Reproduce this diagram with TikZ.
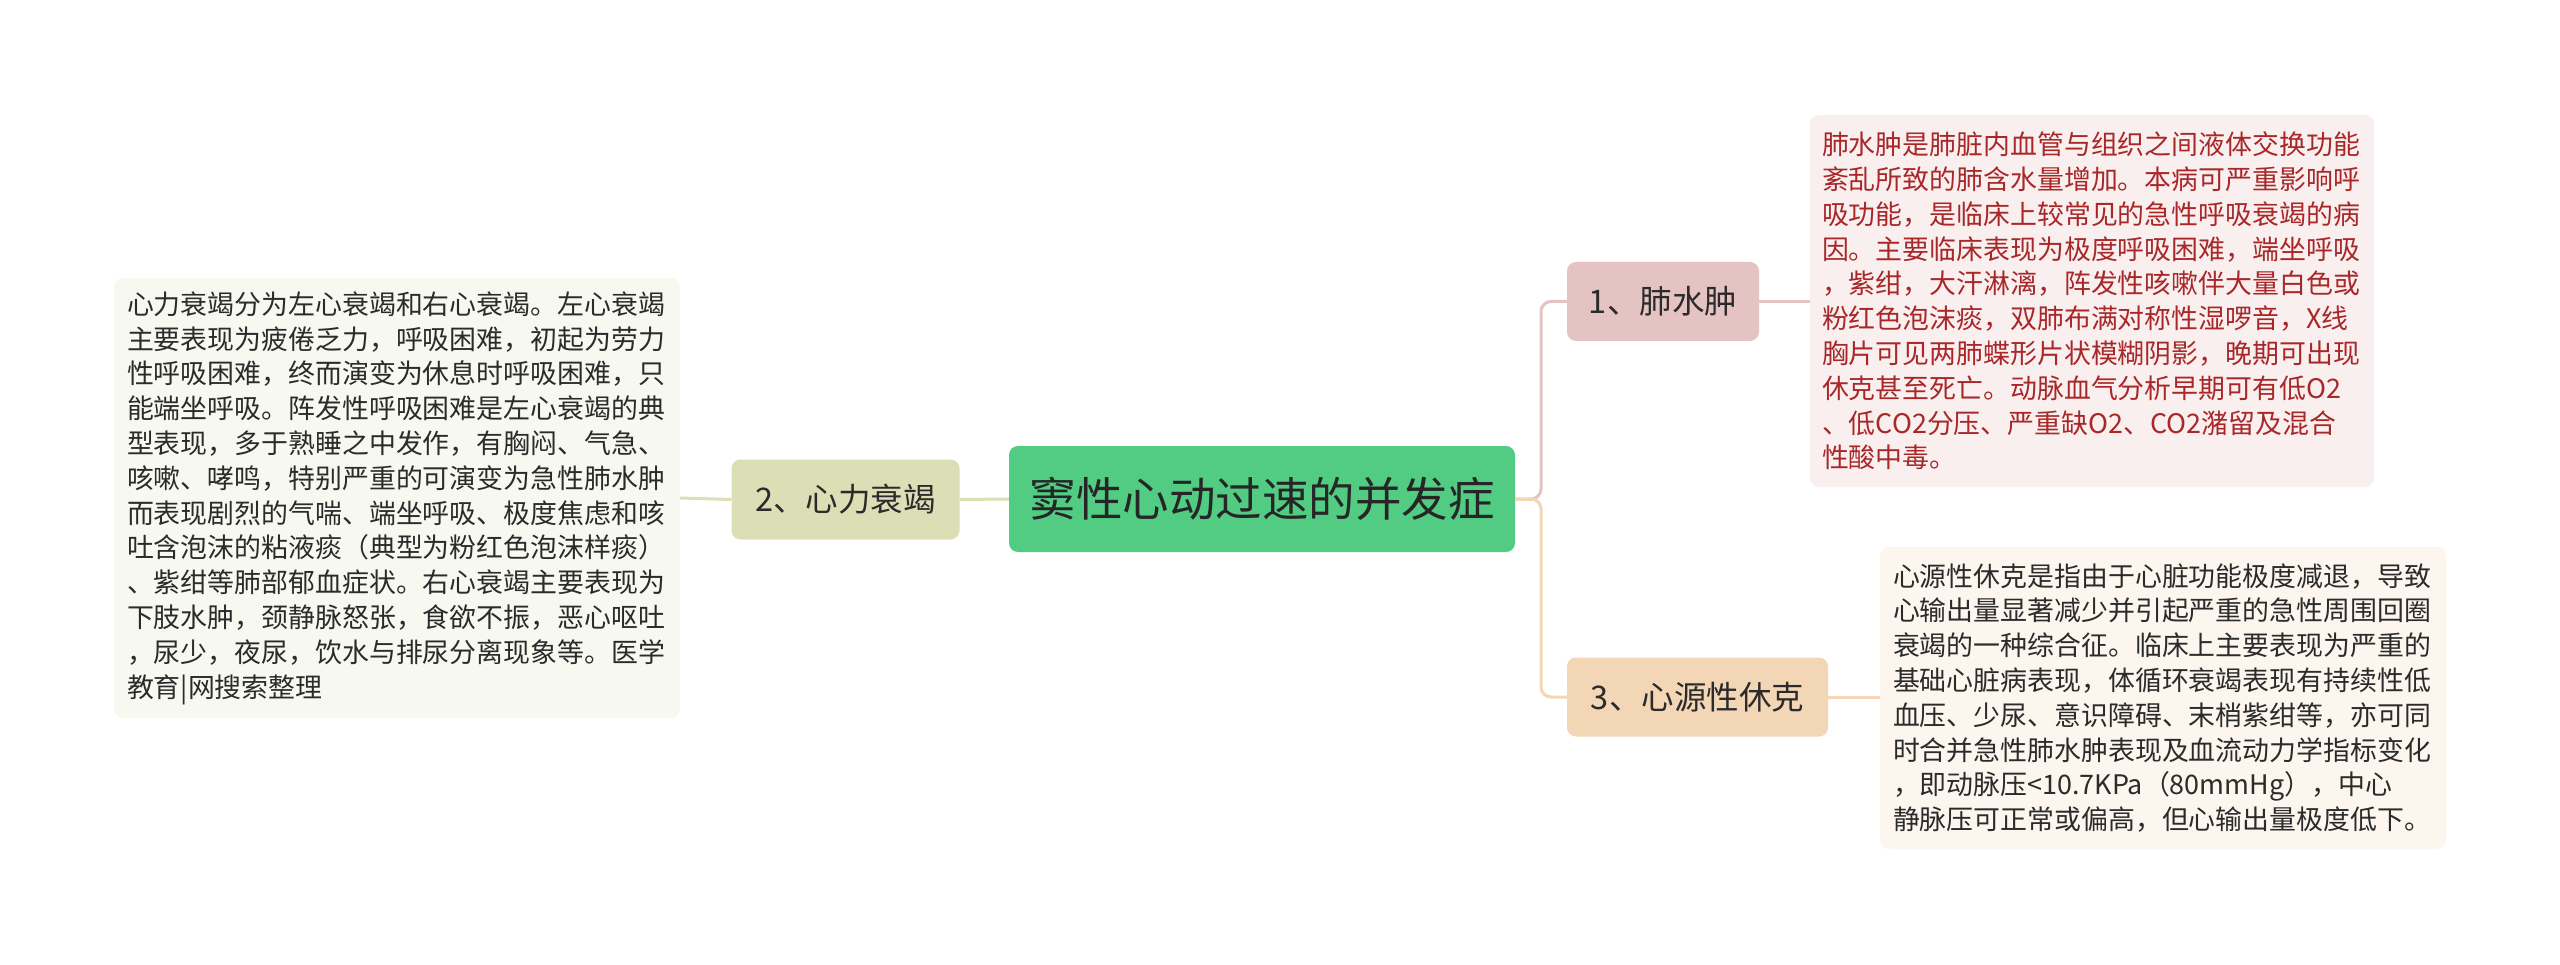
\documentclass[tikz,border=0pt]{standalone}
\usepackage{fontspec}
\setmainfont{Noto Sans CJK SC}
\definecolor{cgreen}{HTML}{52CC82}
\definecolor{colive}{HTML}{DCDFB5}
\definecolor{cpink}{HTML}{E6C3C3}
\definecolor{cpeach}{HTML}{F2D6B5}
\definecolor{bgleft}{HTML}{F7F8F0}
\definecolor{bgpink}{HTML}{FAEFEF}
\definecolor{bgpeach}{HTML}{FDF6EE}
\definecolor{tred}{HTML}{A8282A}
\definecolor{tdark}{HTML}{2B2B2B}
\tikzset{
  x=1pt, y=-1pt,
  topic/.style={rounded corners=9pt, inner sep=0pt, text=tdark, font=\fontsize{32.5}{36}\selectfont},
  note/.style={rounded corners=9pt, inner sep=0pt, align=left, text width=540pt, font=\fontsize{26.9}{34.8}\selectfont},
  link/.style={line width=3pt},
}
\begin{document}
\begin{tikzpicture}
\useasboundingbox (0,0) rectangle (2560,965);
\fill[white] (0,0) rectangle (2560,965);

% central
\node[topic, fill=cgreen, minimum width=506pt, minimum height=106pt, font=\fontsize{46.5}{50}\selectfont, text=black!85] (c) at (1262,499) {窦性心动过速的并发症};

% left branch
\node[topic, fill=colive, minimum width=228pt, minimum height=80pt] (n2) at (845.5,499.5) {2、心力衰竭};
\node[note, fill=bgleft, text=tdark, minimum width=566pt, minimum height=440pt] (b2) at (397,498) {心力衰竭分为左心衰竭和右心衰竭。左心衰竭\\主要表现为疲倦乏力，呼吸困难，初起为劳力\\性呼吸困难，终而演变为休息时呼吸困难，只\\能端坐呼吸。阵发性呼吸困难是左心衰竭的典\\型表现，多于熟睡之中发作，有胸闷、气急、\\咳嗽、哮鸣，特别严重的可演变为急性肺水肿\\而表现剧烈的气喘、端坐呼吸、极度焦虑和咳\\吐含泡沫的粘液痰（典型为粉红色泡沫样痰）\\、紫绀等肺部郁血症状。右心衰竭主要表现为\\下肢水肿，颈静脉怒张，食欲不振，恶心呕吐\\，尿少，夜尿，饮水与排尿分离现象等。医学\\教育|网搜索整理};

% right branches
\node[topic, fill=cpink, minimum width=192pt, minimum height=79pt] (n1) at (1663,301.5) {1、肺水肿};
\node[topic, fill=cpeach, minimum width=261pt, minimum height=79pt] (n3) at (1697.5,697) {3、心源性休克};

\node[note, fill=bgpink, text=tred, minimum width=564pt, minimum height=372pt] (b1) at (2092,301) {肺水肿是肺脏内血管与组织之间液体交换功能\\紊乱所致的肺含水量增加。本病可严重影响呼\\吸功能，是临床上较常见的急性呼吸衰竭的病\\因。主要临床表现为极度呼吸困难，端坐呼吸\\，紫绀，大汗淋漓，阵发性咳嗽伴大量白色或\\粉红色泡沫痰，双肺布满对称性湿啰音，X线\\胸片可见两肺蝶形片状模糊阴影，晚期可出现\\休克甚至死亡。动脉血气分析早期可有低O2\\、低CO2分压、严重缺O2、CO2潴留及混合\\性酸中毒。};

\node[note, fill=bgpeach, text=tdark, minimum width=566pt, minimum height=302pt] (b3) at (2163,698) {心源性休克是指由于心脏功能极度减退，导致\\心输出量显著减少并引起严重的急性周围回圈\\衰竭的一种综合征。临床上主要表现为严重的\\基础心脏病表现，体循环衰竭表现有持续性低\\血压、少尿、意识障碍、末梢紫绀等，亦可同\\时合并急性肺水肿表现及血流动力学指标变化\\，即动脉压<10.7KPa（80mmHg），中心\\静脉压可正常或偏高，但心输出量极度低下。};

% connectors
\coordinate (j) at (1541,499);
\draw[link, colive] (b2.east) -- (n2.west);
\draw[link, colive] (n2.east) -- (c.west);
\draw[link, cpink, rounded corners=10pt] (c.east) -- (j) |- (n1.west);
\draw[link, cpeach, rounded corners=10pt] (c.east) -- (j) |- (n3.west);
\draw[link, cpink] (n1.east) -- (n1.east -| b1.west);
\draw[link, cpeach] (n3.east) -- (n3.east -| b3.west);
\end{tikzpicture}
\end{document}
